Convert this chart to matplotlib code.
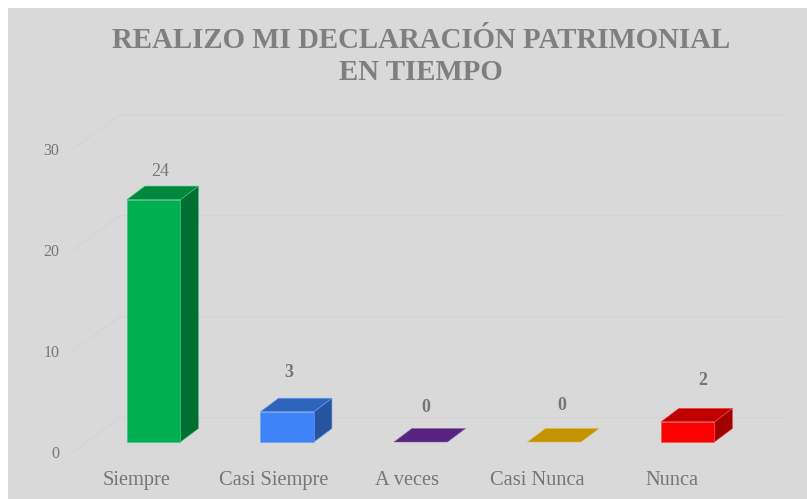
import matplotlib
matplotlib.use('Agg')
import matplotlib.pyplot as plt
from matplotlib.patches import Polygon

categories = ['Siempre', 'Casi Siempre', 'A veces', 'Casi Nunca', 'Nunca']
values = [24, 3, 0, 0, 2]
y_ticks = [0, 10, 20, 30]

front_colors = ['#00B050', '#3F83F8', '#6A2C9E', '#EDB200', '#FF0000']
top_colors = ['#00893E', '#2F64BC', '#572381', '#C39300', '#C00000']
side_colors = ['#006F32', '#28549E', '#47196C', '#A07800', '#A00000']
edge_colors = ['#3FC07A', '#6A9EF5', '#8A63A8', '#DDB84A', '#F05050']

# manual label nudges, same as the hand-placed labels in the original
label_dx = [0.05, 0.01, 0.04, 0.06, 0.11]
label_y = [26.8, 6.9, 3.45, 3.65, 6.1]
label_weight = ['normal', 'bold', 'bold', 'bold', 'bold']
cat_label_dx = [-0.127, -0.10, -0.10, -0.13, -0.115]

BG = '#D9D9D9'
TXT = '#767676'
GRID = '#D3D3D3'
SERIF = 'Liberation Serif'

W, H = 807, 499
LEFT, TOP = 8, 8
X0, X_UNIT = 153.7, 133.5   # pixel of category 0, pixels per category
Y0, Y_UNIT = 442.0, 10.1    # pixel of value 0, pixels per value

BAR_W = 53.5 / X_UNIT
DX, DY = 18 / X_UNIT, 13.5 / Y_UNIT

fig = plt.figure(figsize=(W / 100, H / 100), dpi=100, facecolor='white')
ax = fig.add_axes([LEFT / W, 0, (W - LEFT) / W, (H - TOP) / H])
ax.set_xlim((LEFT - X0) / X_UNIT, (W - X0) / X_UNIT)
ax.set_ylim((Y0 - H) / Y_UNIT, (Y0 - TOP) / Y_UNIT)
ax.axis('off')
ax.add_patch(plt.Rectangle((0, 0), 1, 1, transform=ax.transAxes, color=BG, zorder=0))

# bent gridlines: side wall going back, then along the back wall
gx_front, gx_back, gx_end = (72.5 - X0) / X_UNIT, (120 - X0) / X_UNIT, (787 - X0) / X_UNIT
for t in y_ticks:
    y_front = t - 1.0
    y_back = t + 2.4
    ax.plot([gx_front, gx_back, gx_end], [y_front, y_back, y_back],
            color=GRID, lw=0.8, zorder=1, solid_joinstyle='miter')
    ax.text((59.5 - X0) / X_UNIT, y_front - 0.15, str(t), ha='right', va='center',
            family=SERIF, fontsize=11.5, color=TXT, zorder=5)

# 3D looking bars
for i, v in enumerate(values):
    x1, x2 = i - BAR_W / 2, i + BAR_W / 2
    if v > 0:
        ax.add_patch(Polygon([(x2, 0), (x2 + DX, DY), (x2 + DX, v + DY), (x2, v)],
                             fc=side_colors[i], ec=edge_colors[i], lw=0.4, zorder=2))
        ax.add_patch(Polygon([(x1, 0), (x2, 0), (x2, v), (x1, v)],
                             fc=front_colors[i], ec=edge_colors[i], lw=0.4, zorder=3))
    ax.add_patch(Polygon([(x1, v), (x2, v), (x2 + DX, v + DY), (x1 + DX, v + DY)],
                         fc=top_colors[i], ec=edge_colors[i], lw=0.4, zorder=3))
    ax.text(i + label_dx[i], label_y[i], str(v), ha='center', va='center',
            family=SERIF, fontsize=13, color=TXT, fontweight=label_weight[i], zorder=5)
    ax.text(i + cat_label_dx[i], -3.8, categories[i], ha='center', va='center',
            family=SERIF, fontsize=14.7, color=TXT, zorder=5)

fig.text(421 / W, 1 - 56.5 / H, 'REALIZO MI DECLARACIÓN PATRIMONIAL\nEN TIEMPO', ha='center', va='center',
         family=SERIF, fontsize=20.8, fontweight='bold', color='#7F7F7F', linespacing=1.28)

fig.savefig('out.png', dpi=100, facecolor='white')
